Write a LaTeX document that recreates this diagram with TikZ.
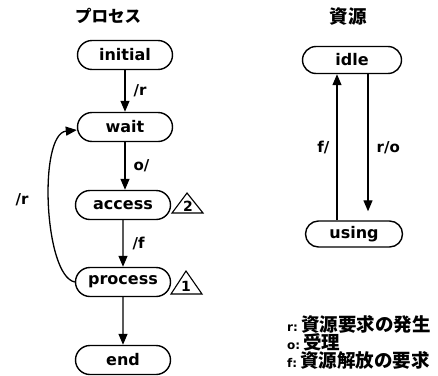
\documentclass[tikz,border=0pt]{standalone}
\usepackage{fontspec}
\setmainfont{DejaVu Sans}
\newfontfamily\cjk{Noto Sans CJK JP}
\newcommand\lgtag{\rmfamily\bfseries\fontsize{12}{12}\selectfont}
\usetikzlibrary{shapes.misc,arrows.meta}
\tikzset{
  state/.style={draw, line width=1.4pt, rounded rectangle, minimum width=95pt,
    minimum height=29pt, inner sep=0pt, font=\bfseries\fontsize{16}{16}\selectfont},
  arr/.style={line width=1.3pt, -{Triangle[length=11pt,width=9pt]}},
  lab/.style={font=\bfseries\fontsize{15}{15}\selectfont, inner sep=0pt},
  title/.style={font=\cjk\bfseries\fontsize{16.5}{16.5}\selectfont, inner sep=0pt},
  tri/.style={line width=1.1pt, line join=miter},
  num/.style={font=\bfseries\fontsize{14}{14}\selectfont, inner sep=0pt},
}
\begin{document}
\begin{tikzpicture}[x=1pt,y=-1pt]
\useasboundingbox (0,0) rectangle (438,375);
% titles
\node[title] (tproc) at (108,16) {プロセス};
\node[title, font=\cjk\bfseries\fontsize{18.5}{18.5}\selectfont] (tres) at (348,17) {資源};
% process machine
\node[state] (initial) at (125,55) {initial};
\node[state] (wait) at (125,127) {wait};
\node[state] (access) at (123,205) {access};
\node[state] (process) at (123,282) {process};
\node[state] (end) at (123,360) {end};
\draw[arr] (initial.south -| 125,0) -- node[lab, right=8pt] {/r} (wait.north -| 125,0);
\draw[arr] (wait.south -| 125,0) -- node[lab, right=8pt] {o/} (access.north -| 125,0);
\draw[arr] (access) -- node[lab, right=9pt] {/f} (process);
\draw[arr] (process) -- (end);
\draw[arr] (process.west) .. controls (44,276) and (38,134) .. ([yshift=-3pt]wait.west);
\node[lab] (lr) at (22,200) {/r};
% triangles
\draw[tri] (172,213) -- (187,193) -- (203,213) -- cycle;
\node[num] (n2) at (188,206) {2};
\draw[tri] (171,294) -- (186,271) -- (202,294) -- cycle;
\node[num] (n1) at (186,286) {1};
% resource machine
\node[state, minimum width=99pt, minimum height=27pt] (idle) at (352,60) {idle};
\node[state, minimum width=97pt, minimum height=26pt] (using) at (354,234) {using};
\coordinate (ux) at (337,0);
\coordinate (dx) at (368,0);
\draw[arr] (using.north -| ux) -- node[lab, left=7pt] {f/} (idle.south -| ux);
\draw[arr, shorten >=9pt] (idle.south -| dx) -- node[lab, right=8pt] {r/o} (using.north -| dx);
% legend
\node[anchor=north west, align=left, inner sep=0pt, font=\cjk\bfseries\fontsize{18.5}{18}\selectfont] (legend) at (287,315)
  {{\lgtag r:}\,資源要求の発生\\
   {\lgtag o:}\,受理\\
   {\lgtag f:}\,資源解放の要求};
\end{tikzpicture}
\end{document}
